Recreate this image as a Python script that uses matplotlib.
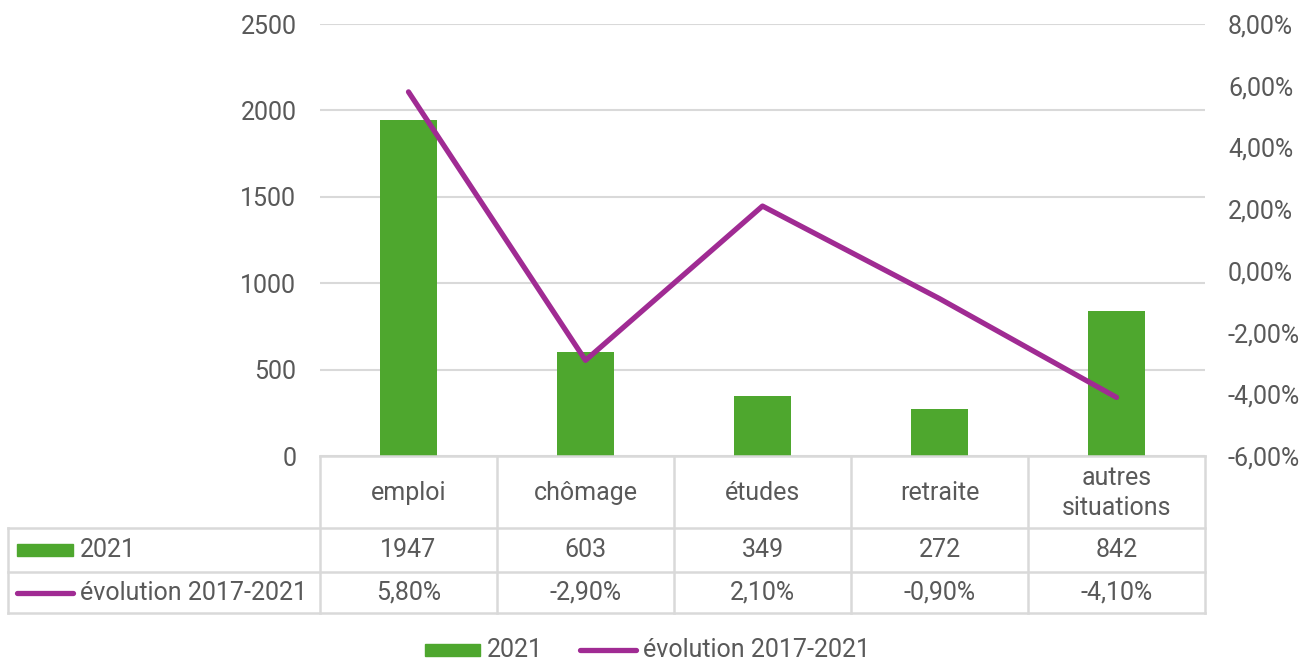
import matplotlib
matplotlib.use("Agg")
import matplotlib.pyplot as plt
from matplotlib.lines import Line2D
from matplotlib.patches import Rectangle
from matplotlib.ticker import FuncFormatter, MultipleLocator

categories = ["emploi", "chômage", "études", "retraite", "autres\nsituations"]
values_2021 = [1947, 603, 349, 272, 842]
evolution = [5.8, -2.9, 2.1, -0.9, -4.1]
series_names = ["2021", "évolution 2017-2021"]

GREEN = "#4EA72E"
PURPLE = "#A02B93"
GRID = "#D9D9D9"
TXT = "#595959"
FS = 18

plt.rcParams["font.family"] = ["Roboto", "DejaVu Sans"]

W, H = 1316, 663
fig = plt.figure(figsize=(W / 100, H / 100), dpi=100)

def fx(px):
    return px / W

def fy(py):
    return 1 - py / H

L, R, T, B = 320, 1205, 24, 456
ax = fig.add_axes([fx(L), fy(B), fx(R) - fx(L), fy(T) - fy(B)])
ax2 = ax.twinx()

x = list(range(len(categories)))
ax.bar(x, values_2021, width=0.32, color=GREEN, zorder=2)
ax.set_xlim(-0.5, len(categories) - 0.5)
ax.set_ylim(0, 2500)
ax.yaxis.set_major_locator(MultipleLocator(500))
ax.grid(axis="y", color=GRID, lw=1.5, zorder=0)
ax.set_axisbelow(True)
ax.set_xticks([])
for s in ax.spines.values():
    s.set_visible(False)
ax.tick_params(axis="y", length=0, pad=17, labelsize=FS, labelcolor=TXT)

ax2.plot(x, evolution, color=PURPLE, lw=3.8, solid_capstyle="round",
         solid_joinstyle="round", zorder=3)
ax2.set_ylim(-6, 8)
ax2.yaxis.set_major_locator(MultipleLocator(2))
ax2.yaxis.set_major_formatter(FuncFormatter(lambda v, p: f"{v:.2f}%".replace(".", ",")))
for s in ax2.spines.values():
    s.set_visible(False)
ax2.tick_params(axis="y", length=0, pad=16.5, labelsize=FS, labelcolor=TXT)

# data table
col_w = (R - L) / len(categories)
r1, r2, r3 = 528, 572, 613
left_tab = 8

def hline(y, x0, x1):
    fig.add_artist(Line2D([fx(x0), fx(x1)], [fy(y), fy(y)], color=GRID, lw=1.8))

def vline(xp, y0, y1):
    fig.add_artist(Line2D([fx(xp), fx(xp)], [fy(y0), fy(y1)], color=GRID, lw=1.8))

hline(B, L, R)
hline(r1, left_tab, R)
hline(r2, left_tab, R)
hline(r3, left_tab, R)
vline(left_tab, r1, r3)
for k in range(len(categories) + 1):
    vline(L + k * col_w, B, r3)

for i, cat in enumerate(categories):
    cx = L + (i + 0.5) * col_w
    fig.text(fx(cx), fy((B + r1) / 2 + 1), cat, ha="center", va="center",
             fontsize=FS, color=TXT, linespacing=1.3)
    fig.text(fx(cx), fy((r1 + r2) / 2), str(values_2021[i]), ha="center",
             va="center", fontsize=FS, color=TXT)
    fig.text(fx(cx), fy((r2 + r3) / 2), f"{evolution[i]:.2f}%".replace(".", ","),
             ha="center", va="center", fontsize=FS, color=TXT)

# legend keys in table
ym = (r1 + r2) / 2
fig.add_artist(Rectangle((fx(17), fy(ym + 6)), fx(73) - fx(17), fy(ym - 6) - fy(ym + 6),
                         color=GREEN))
fig.text(fx(80), fy(ym), series_names[0], ha="left", va="center", fontsize=FS, color=TXT)
ym2 = (r2 + r3) / 2
fig.add_artist(Line2D([fx(17), fx(73)], [fy(ym2), fy(ym2)], color=PURPLE, lw=3.8,
                      solid_capstyle="round"))
fig.text(fx(80), fy(ym2), series_names[1], ha="left", va="center", fontsize=FS, color=TXT)

# bottom legend
yl = 650
fig.add_artist(Rectangle((fx(425), fy(yl + 6)), fx(480) - fx(425), fy(yl - 6) - fy(yl + 6),
                         color=GREEN))
fig.text(fx(487), fy(yl), series_names[0], ha="left", va="center", fontsize=FS, color=TXT)
fig.add_artist(Line2D([fx(580), fx(636)], [fy(yl), fy(yl)], color=PURPLE, lw=3.8,
                      solid_capstyle="round"))
fig.text(fx(643), fy(yl), series_names[1], ha="left", va="center", fontsize=FS, color=TXT)

fig.savefig("out.png", dpi=100, facecolor="white")
